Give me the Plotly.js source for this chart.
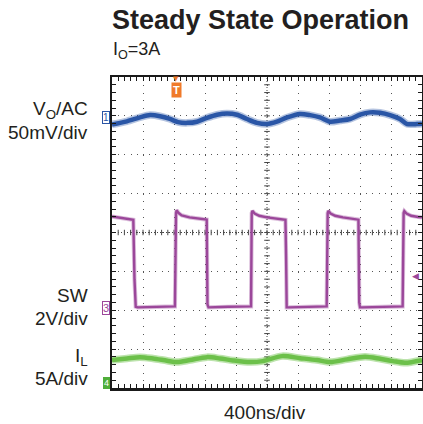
<!DOCTYPE html>
<html>
<head>
<meta charset="utf-8">
<script src="https://cdn.plot.ly/plotly-3.0.1.min.js"></script>
<style>
  html, body { margin: 0; padding: 0; background: #ffffff; }
  #chart { width: 423px; height: 424px; }
</style>
</head>
<body>
<div id="chart"></div>
<script>
// ---- Channel 1: output voltage ripple (AC coupled), time in ns, value in mV
var voTimeNs = [0, 192, 360, 492, 620, 748, 852, 968, 1096, 1224, 1356, 1484, 1612, 1740, 1872, 2000, 2128, 2260, 2424, 2556, 2684, 2812, 2940, 3072, 3200, 3328, 3460, 3588, 3716, 3808, 3936, 4000];
var voRippleMv = [-8.5, -4.5, 0.5, 3.5, 2, -1.5, -5.5, -6.5, -5, 0, 4, 5.5, 4, -1.5, -6.5, -8, -5, 0.5, 5, 3.5, 0.5, -5, -3.5, -1.5, 4, 7, 6.5, 3.5, -1.5, -8, -8, -7.5];

// ---- Channel 3: switch node voltage, time in ns, value in V
var swTimeNs = [0, 120, 275, 290, 306, 330, 600, 812, 826, 834, 860, 900, 1000, 1100, 1222, 1232, 1245, 1500, 1794, 1803, 1812, 1840, 1900, 2000, 2120, 2238, 2246, 2254, 2280, 2500, 2770, 2783, 2792, 2820, 2880, 2980, 3080, 3180, 3190, 3200, 3230, 3500, 3750, 3763, 3772, 3800, 3860, 3950, 4000];
var swVolts = [4.72, 4.66, 4.55, 1.5, 0.08, 0.05, 0.08, 0.10, 4.9, 5.05, 4.9, 4.78, 4.68, 4.62, 4.56, 0.2, 0.05, 0.08, 0.10, 4.9, 5.02, 4.88, 4.76, 4.68, 4.62, 4.55, 2.7, 0.05, 0.05, 0.08, 0.10, 4.9, 5.02, 4.88, 4.76, 4.68, 4.62, 4.56, 0.3, 0.05, 0.05, 0.08, 0.10, 4.9, 5.0, 4.88, 4.76, 4.70, 4.68];

// ---- Channel 4: inductor current, time in ns, value in A
var ilTimeNs = [0, 194, 361, 529, 710, 839, 1006, 1226, 1394, 1561, 1781, 1948, 2194, 2426, 2645, 2813, 3032, 3265, 3458, 3626, 3781, 4000];
var ilAmps = [2.99, 3.20, 3.37, 3.20, 2.91, 2.73, 2.99, 3.37, 3.20, 2.95, 2.73, 2.86, 3.50, 3.24, 2.99, 2.73, 3.08, 3.42, 3.16, 2.86, 2.65, 2.99];

// ---- Scope settings
var channelScales = { vo: 50, sw: 2, il: 5 };       // units per division
var channelOffsets = { vo: 2.95, sw: -1.95, il: -3.88 }; // ground position, divisions
var triggerTimeNs = 826;
var swTriggerLevelV = 1.64;
var timePerDivNs = 400;

// ---- Text
var titleText = 'Steady State Operation';
var subtitleText = 'I<sub>O</sub>=3A';
var channelLabels = ['V<sub>O</sub>/AC', '50mV/div', 'SW', '2V/div', 'I<sub>L</sub>', '5A/div'];
var timebaseLabel = '400ns/div';

function toDiv(vals, ch) {
  return vals.map(function (v) { return channelOffsets[ch] + v / channelScales[ch]; });
}

var BLUE = '#2a56a6', PURPLE = '#9b479a', GREEN = '#6cc04a', ORANGE = '#f07a2a';

var traces = [
  { x: voTimeNs, y: toDiv(voRippleMv, 'vo'), mode: 'lines', line: { color: 'rgba(42,86,166,0.35)', width: 7.5, shape: 'spline', smoothing: 0.8 }, hoverinfo: 'skip' },
  { x: voTimeNs, y: toDiv(voRippleMv, 'vo'), mode: 'lines', line: { color: BLUE, width: 4.5, shape: 'spline', smoothing: 0.8 } },
  { x: swTimeNs, y: toDiv(swVolts, 'sw'), mode: 'lines', line: { color: 'rgba(155,71,154,0.35)', width: 4.2 }, hoverinfo: 'skip' },
  { x: swTimeNs, y: toDiv(swVolts, 'sw'), mode: 'lines', line: { color: PURPLE, width: 2.4 } },
  { x: ilTimeNs, y: toDiv(ilAmps, 'il'), mode: 'lines', line: { color: 'rgba(108,192,74,0.45)', width: 7.5, shape: 'spline', smoothing: 0.8 }, hoverinfo: 'skip' },
  { x: ilTimeNs, y: toDiv(ilAmps, 'il'), mode: 'lines', line: { color: GREEN, width: 4.5, shape: 'spline', smoothing: 0.8 } }
];

// center graticule lines with small crossing ticks
var shapes = [
  { type: 'line', xref: 'x', yref: 'y', x0: 5 * timePerDivNs, x1: 5 * timePerDivNs, y0: -4, y1: 4, line: { color: '#444', width: 1, dash: '1px,2px' }, layer: 'below' },
  { type: 'line', xref: 'x', yref: 'y', x0: 0, x1: 10 * timePerDivNs, y0: 0, y1: 0, line: { color: '#444', width: 1, dash: '1px,2px' }, layer: 'below' }
];
for (var i = 1; i < 50; i++) {
  shapes.push({ type: 'line', xref: 'x', yref: 'y', x0: i * timePerDivNs / 5, x1: i * timePerDivNs / 5, y0: -0.07, y1: 0.07, line: { color: '#444', width: 1 }, layer: 'below' });
}
for (var j = 1; j < 40; j++) {
  shapes.push({ type: 'line', xref: 'x', yref: 'y', x0: 5 * timePerDivNs - 36, x1: 5 * timePerDivNs + 36, y0: -4 + j * 0.2, y1: -4 + j * 0.2, line: { color: '#444', width: 1 }, layer: 'below' });
}

var labelFont = { family: 'Liberation Sans, Arial, sans-serif', size: 19, color: '#231f20' };
var labelX = -0.072;
var labelYs = [0.893, 0.823, 0.298, 0.222, 0.100, 0.030];
var annotations = [];
channelLabels.forEach(function (t, k) {
  annotations.push({ text: t, xref: 'paper', yref: 'paper', x: labelX, y: labelYs[k], xanchor: 'right', yanchor: 'middle', showarrow: false, font: labelFont });
});
annotations.push({ text: '<b>' + titleText + '</b>', xref: 'paper', yref: 'paper', x: -0.005, y: 1.183, xanchor: 'left', yanchor: 'middle', showarrow: false, font: { family: 'Liberation Sans, Arial, sans-serif', size: 27, color: '#231f20' } });
annotations.push({ text: subtitleText, xref: 'paper', yref: 'paper', x: -0.004, y: 1.085, xanchor: 'left', yanchor: 'middle', showarrow: false, font: { family: 'Liberation Sans, Arial, sans-serif', size: 18, color: '#231f20' } });
annotations.push({ text: timebaseLabel, xref: 'paper', yref: 'paper', x: 0.494, y: -0.078, xanchor: 'center', yanchor: 'middle', showarrow: false, font: labelFont });
// channel ground markers
annotations.push({ text: '1', xref: 'paper', yref: 'y', x: -0.006, y: channelOffsets.vo, xanchor: 'right', yanchor: 'middle', showarrow: false, font: { family: 'Liberation Sans, Arial', size: 10, color: BLUE }, bordercolor: BLUE, borderwidth: 1, borderpad: 0, bgcolor: '#fff' });
annotations.push({ text: '3', xref: 'paper', yref: 'y', x: -0.006, y: channelOffsets.sw, xanchor: 'right', yanchor: 'middle', showarrow: false, font: { family: 'Liberation Sans, Arial', size: 11, color: PURPLE }, bordercolor: PURPLE, borderwidth: 1, borderpad: 0, bgcolor: '#fff' });
annotations.push({ text: '4', xref: 'paper', yref: 'y', x: -0.006, y: channelOffsets.il, xanchor: 'right', yanchor: 'middle', showarrow: false, font: { family: 'Liberation Sans, Arial', size: 9, color: '#fff' }, bordercolor: '#4fae3a', borderwidth: 1, borderpad: 0, bgcolor: '#4fae3a' });
// trigger marker
annotations.push({ text: '<b>T</b>', xref: 'x', yref: 'paper', x: triggerTimeNs, y: 0.957, xanchor: 'center', yanchor: 'middle', showarrow: false, font: { family: 'Liberation Sans, Arial', size: 11, color: '#fff' }, bgcolor: ORANGE, borderpad: 1 });
annotations.push({ text: '▼', xref: 'x', yref: 'paper', x: triggerTimeNs, y: 0.994, xanchor: 'center', yanchor: 'middle', showarrow: false, font: { family: 'DejaVu Sans', size: 7, color: ORANGE } });
// trigger level marker on SW
annotations.push({ text: '◀', xref: 'paper', yref: 'y', x: 0.997, y: channelOffsets.sw + swTriggerLevelV / channelScales.sw, xanchor: 'right', yanchor: 'middle', showarrow: false, font: { family: 'DejaVu Sans', size: 9, color: PURPLE } });

var axisCommon = {
  showgrid: true, gridcolor: '#555', gridwidth: 1,
  showline: true, linecolor: '#1a1a1a', linewidth: 2.5, mirror: 'allticks',
  ticks: 'inside', ticklen: 4, tickcolor: '#1a1a1a', tickwidth: 1,
  showticklabels: false, zeroline: false, fixedrange: true
};

var layout = {
  width: 423, height: 424,
  margin: { l: 112, r: 1, t: 77, b: 36, pad: 0 },
  paper_bgcolor: '#ffffff', plot_bgcolor: '#ffffff',
  showlegend: false,
  xaxis: Object.assign({}, axisCommon, {
    range: [0, 10 * timePerDivNs], dtick: timePerDivNs, tick0: 0, griddash: '1px,6.78px',
    minor: { dtick: timePerDivNs / 5, ticks: 'inside', ticklen: 4, tickcolor: '#1a1a1a', showgrid: false }
  }),
  yaxis: Object.assign({}, axisCommon, {
    range: [-4, 4], dtick: 1, tick0: 0, griddash: '1px,5.2px',
    minor: { dtick: 0.2, ticks: 'inside', ticklen: 4, tickcolor: '#1a1a1a', showgrid: false }
  }),
  shapes: shapes,
  annotations: annotations
};

Plotly.newPlot('chart', traces, layout, { staticPlot: true, displayModeBar: false });
</script>
</body>
</html>
